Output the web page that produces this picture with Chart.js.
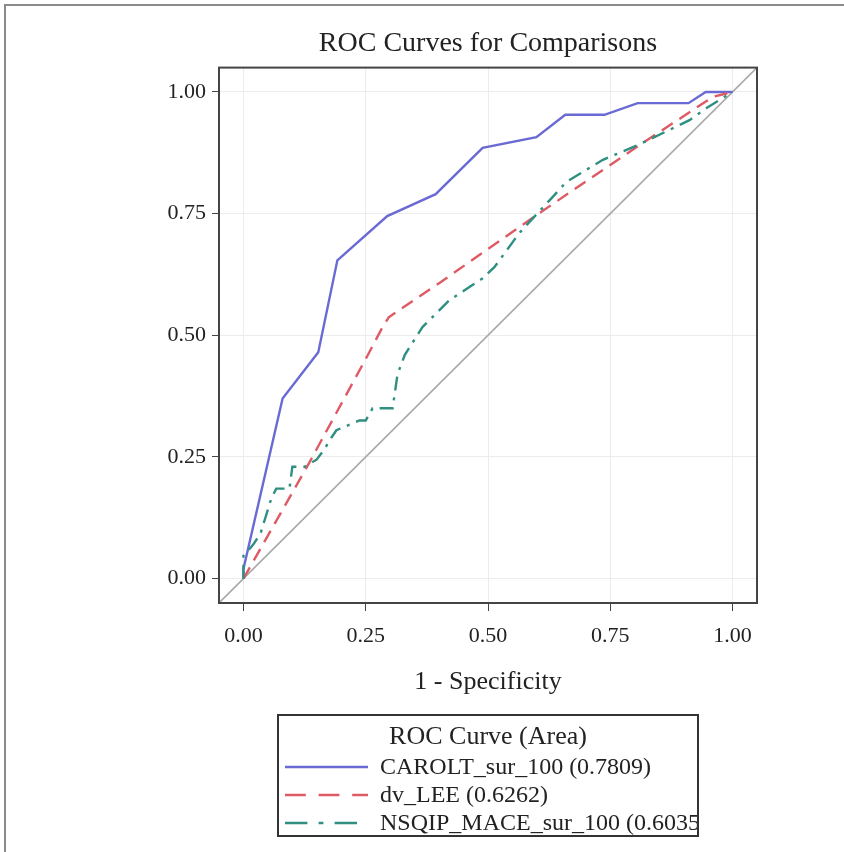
<!DOCTYPE html>
<html>
<head>
<meta charset="utf-8">
<script src="https://cdn.jsdelivr.net/npm/chart.js@4.4.0/dist/chart.umd.min.js"></script>
<style>
  html, body { margin: 0; padding: 0; background: #fff; }
</style>
</head>
<body>
<canvas id="roc" width="844" height="852"></canvas>
<script>
// values
const chartTitle = "ROC Curves for Comparisons";
const xTitle = "1 - Specificity";
const legendTitle = "ROC Curve (Area)";
const xTicks = [0, 0.25, 0.5, 0.75, 1];
const yTicks = [0, 0.25, 0.5, 0.75, 1];

const carolLabel = "CAROLT_sur_100 (0.7809)";
const carolX = [0, 0, 0.08, 0.153, 0.192, 0.294, 0.393, 0.489, 0.599, 0.658, 0.738, 0.806, 0.91, 0.945, 0.98, 1];
const carolY = [0, 0.02, 0.37, 0.465, 0.654, 0.745, 0.79, 0.885, 0.907, 0.953, 0.953, 0.977, 0.977, 1, 1, 1];

const leeLabel = "dv_LEE (0.6262)";
const leeX = [0, 0.135, 0.254, 0.284, 0.297, 0.4, 0.605, 0.804, 0.96, 1];
const leeY = [0, 0.239, 0.459, 0.516, 0.537, 0.607, 0.751, 0.887, 0.99, 1];

const nsqipLabel = "NSQIP_MACE_sur_100 (0.6035)";
const nsqipX = [0, 0, 0.02, 0.035, 0.057, 0.067, 0.094, 0.1, 0.125, 0.15, 0.165, 0.18, 0.19, 0.237, 0.25, 0.264, 0.305, 0.315, 0.33, 0.366, 0.421, 0.462, 0.489, 0.513, 0.564, 0.585, 0.632, 0.66, 0.734, 0.804, 0.836, 0.912, 0.947, 1];
const nsqipY = [0, 0.047, 0.07, 0.093, 0.165, 0.185, 0.185, 0.23, 0.23, 0.245, 0.265, 0.29, 0.305, 0.325, 0.325, 0.35, 0.35, 0.42, 0.46, 0.517, 0.572, 0.599, 0.617, 0.64, 0.71, 0.733, 0.784, 0.815, 0.86, 0.89, 0.905, 0.942, 0.967, 1];

const chanceX = [-0.05, 1.05];
const chanceY = [-0.05, 1.05];

const serif = '"Liberation Serif", "Times New Roman", serif';
const textColor = "#222";

function pts(xs, ys) {
    return xs.map((x, i) => ({ x: x, y: ys[i] }));
}

const seriesStyles = [
    { label: carolLabel, x: carolX, y: carolY, color: "#6a6ad4", dash: [] },
    { label: leeLabel, x: leeX, y: leeY, color: "#de5a64", dash: [13, 8] },
    { label: nsqipLabel, x: nsqipX, y: nsqipY, color: "#2f8f80", dash: [14, 7, 3, 7] }
];

let datasets = [{
    label: "chance",
    data: pts(chanceX, chanceY),
    borderColor: "#a9a9a9",
    borderWidth: 1.6,
    pointRadius: 0,
    showLine: true,
    order: 5
}];
seriesStyles.forEach((s, i) => {
    datasets.push({
        label: s.label,
        data: pts(s.x, s.y),
        borderColor: s.color,
        borderWidth: 2.4,
        borderDash: s.dash,
        pointRadius: 0,
        showLine: true,
        tension: 0,
        order: 3 - i
    });
});

// page frame, plot frame and boxed legend
const decorations = {
    id: "decorations",
    beforeDraw(chart) {
        const ctx = chart.ctx;
        ctx.save();
        ctx.fillStyle = "#fff";
        ctx.fillRect(0, 0, chart.width, chart.height);
        ctx.strokeStyle = "#8a8a8a";
        ctx.lineWidth = 2;
        ctx.beginPath();
        ctx.moveTo(5, chart.height);
        ctx.lineTo(5, 5);
        ctx.lineTo(chart.width, 5);
        ctx.stroke();
        ctx.restore();
    },
    afterDatasetsDraw(chart) {
        const ctx = chart.ctx;
        const a = chart.chartArea;
        ctx.save();
        ctx.strokeStyle = "#444";
        ctx.lineWidth = 2;
        ctx.strokeRect(a.left, a.top, a.right - a.left, a.bottom - a.top);
        ctx.restore();
    },
    afterDraw(chart) {
        const ctx = chart.ctx;
        const bx = 278, by = 715, bw = 420, bh = 121;
        ctx.save();
        ctx.strokeStyle = "#333";
        ctx.lineWidth = 2;
        ctx.strokeRect(bx, by, bw, bh);
        ctx.beginPath();
        ctx.rect(bx + 1, by + 1, bw - 2, bh - 2);
        ctx.clip();
        ctx.fillStyle = textColor;
        ctx.font = "26px " + serif;
        ctx.textBaseline = "middle";
        ctx.textAlign = "center";
        ctx.fillText(legendTitle, 488, 737);
        ctx.textAlign = "left";
        ctx.font = "24px " + serif;
        const rowY = [767, 795, 823];
        seriesStyles.forEach((s, i) => {
            ctx.strokeStyle = s.color;
            ctx.lineWidth = 2.4;
            ctx.setLineDash(s.dash.map(d => d * 1.6));
            ctx.beginPath();
            ctx.moveTo(285, rowY[i]);
            ctx.lineTo(368, rowY[i]);
            ctx.stroke();
            ctx.setLineDash([]);
            ctx.fillText(s.label, 380, rowY[i] + 1);
        });
        ctx.restore();
    }
};

new Chart(document.getElementById("roc").getContext("2d"), {
    type: "scatter",
    data: { datasets: datasets },
    plugins: [decorations],
    options: {
        responsive: false,
        animation: false,
        layout: { padding: { left: 0, right: 87, top: 0, bottom: 140 } },
        plugins: {
            legend: { display: false },
            tooltip: { enabled: false },
            title: {
                display: true,
                text: chartTitle,
                fullSize: false,
                color: textColor,
                font: { family: serif, size: 28, weight: "normal" },
                padding: { top: 27, bottom: 7 }
            }
        },
        scales: {
            x: {
                type: "linear",
                min: -0.05,
                max: 1.05,
                afterBuildTicks: scale => { scale.ticks = xTicks.map(v => ({ value: v })); },
                afterFit: scale => { scale.height = 109; },
                ticks: {
                    callback: v => v.toFixed(2),
                    color: textColor,
                    font: { family: serif, size: 22 },
                    padding: 12,
                    maxRotation: 0,
                    autoSkip: false
                },
                grid: { color: "#ececec", tickColor: "#444", tickLength: 8, lineWidth: 1 },
                border: { display: true, color: "#444", width: 2 },
                title: {
                    display: true,
                    text: xTitle,
                    color: textColor,
                    font: { family: serif, size: 26 },
                    padding: { top: 0, bottom: 14 }
                }
            },
            y: {
                type: "linear",
                min: -0.05,
                max: 1.05,
                afterBuildTicks: scale => { scale.ticks = yTicks.map(v => ({ value: v })); },
                afterFit: scale => { scale.width = 219; },
                ticks: {
                    callback: v => v.toFixed(2),
                    color: textColor,
                    font: { family: serif, size: 22 },
                    padding: 6
                },
                grid: { color: "#ececec", tickColor: "#444", tickLength: 7, lineWidth: 1 },
                border: { display: true, color: "#444", width: 2 }
            }
        }
    }
});
</script>
</body>
</html>
